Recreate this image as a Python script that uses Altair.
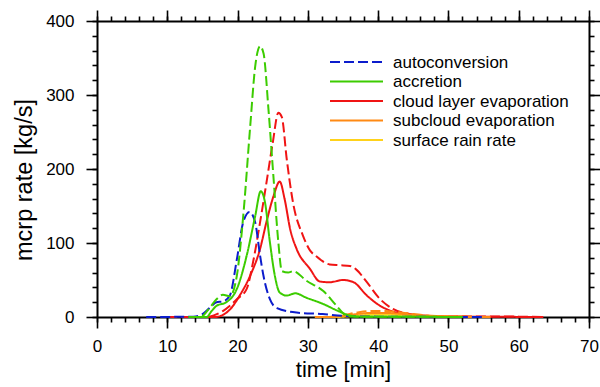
import altair as alt
import pandas as pd

# ---------------- data ----------------
series_keys = ["cloud", "cloud_d", "surface", "subcloud", "subcloud_d", "autoconversion",
               "accretion", "accretion_d"]

t_auto = [7, 13.7, 15, 16.1, 17.0, 17.9, 18.9, 19.9, 20.8, 21.7, 22.5, 23.2, 23.7, 24.6, 25.6, 28.4, 32.1, 35, 40, 55]
v_auto = [0, 0.5, 4, 13, 20, 21, 29, 78, 128, 142, 128, 83, 55, 24, 12, 6, 4, 1.5, 0.5, 0]

t_acc = [14, 15.6, 16.3, 17.0, 18.4, 19.9, 21.3, 22.5, 23.3, 23.9, 24.6, 25.3, 26.0, 27.0, 28.2, 29.8, 32.2, 34.1, 36, 37.5, 45, 52]
v_acc = [0, 0, 8, 15, 20, 38, 83, 136, 170, 155, 101, 56, 33, 29, 32, 26, 17.5, 9, 2, 0.5, 0.3, 0]

t_acc_d = [13, 14.7, 16, 17.0, 17.9, 18.9, 19.9, 20.8, 21.8, 22.5, 23.2, 23.7, 24.4, 25.1, 25.8, 26.3, 27.2, 27.9, 29.8, 32.2, 34.1, 35.3, 36.5, 45, 52]
v_acc_d = [0, 0, 12, 24, 30, 28, 56, 136, 258, 338, 366, 356, 280, 190, 101, 62, 60, 62, 49, 35, 15, 3, 0.5, 0.3, 0]

t_cl = [12, 16.8, 18.9, 20.3, 21.8, 23.2, 24.1, 25.1, 26.0, 26.7, 27.5, 28.4, 30.3, 31.7, 33.1, 35.0, 36.5, 38.4, 40.3, 42.6, 45.2, 48.8, 55, 63.5]
v_cl = [0, 0, 10, 29, 56, 92, 128, 163, 183, 159, 118, 92, 65, 48, 47, 50, 47, 29, 15, 6, 2, 0.8, 0.4, 0]

t_cl_d = [10, 15.4, 17.9, 19.9, 21.3, 22.2, 23.2, 24.1, 25.0, 25.8, 26.3, 27.0, 27.9, 29.3, 30.3, 31.2, 33.1, 34.5, 36.0, 36.9, 38.4, 40.3, 42.1, 44.5, 47.4, 50.2, 60, 63.5]
v_cl_d = [0, 0, 8, 24, 38, 74, 128, 181, 235, 276, 270, 213, 154, 110, 90, 82, 71, 70, 69, 64, 47, 24, 11, 4, 1.5, 0.8, 0.5, 0]

t_sub = [31, 33, 35, 37, 39, 41, 43, 45, 47, 50, 55]
v_sub = [0, 0, 1.5, 4, 5.5, 5.5, 4.5, 3, 1.5, 0.6, 0]

t_sub_d = [31, 33, 35, 37, 39, 41, 43, 45, 47, 50, 56]
v_sub_d = [0, 0, 2.5, 6, 8, 8, 6.5, 4, 2, 0.8, 0]

t_sfc = [32, 34, 36, 38, 40, 42, 44, 46, 49, 53]
v_sfc = [0, 0, 1, 2.5, 3.2, 3, 2.3, 1.3, 0.5, 0]

legend_labels = ["autoconversion", "accretion", "cloud layer evaporation",
                 "subcloud evaporation", "surface rain rate"]

x_major = [0, 10, 20, 30, 40, 50, 60, 70]
x_minor = list(range(0, 71, 2))
y_major = [0, 100, 200, 300, 400]
y_minor = list(range(0, 401, 20))

# ---------------- styling ----------------
BLUE, GREEN, RED, ORANGE, YELLOW = "#0c1ccc", "#3ccc00", "#f01414", "#ff8a14", "#ffd21a"
DASH = [10, 4]
SOLID = [1, 0]
style = {
    "surface": (YELLOW, SOLID), "subcloud": (ORANGE, SOLID), "subcloud_d": (ORANGE, DASH),
    "autoconversion": (BLUE, DASH), "accretion": (GREEN, SOLID), "accretion_d": (GREEN, DASH),
    "cloud": (RED, SOLID), "cloud_d": (RED, DASH),
}
colors = [style[k][0] for k in series_keys]
dashes = [style[k][1] for k in series_keys]
legend_colors = [BLUE, GREEN, RED, ORANGE, YELLOW]
legend_dashes = [DASH, SOLID, SOLID, SOLID, SOLID]

FONT = "Liberation Sans"

data_map = {
    "autoconversion": (t_auto, v_auto), "accretion": (t_acc, v_acc), "accretion_d": (t_acc_d, v_acc_d),
    "cloud": (t_cl, v_cl), "cloud_d": (t_cl_d, v_cl_d), "subcloud": (t_sub, v_sub),
    "subcloud_d": (t_sub_d, v_sub_d), "surface": (t_sfc, v_sfc),
}
rows = []
for key in series_keys:
    ts, vs = data_map[key]
    for i, (t, v) in enumerate(zip(ts, vs)):
        rows.append({"t": t, "v": v, "key": key, "i": i})
df = pd.DataFrame(rows)

xs = alt.Scale(domain=[0, 70], nice=False, zero=False)
ys = alt.Scale(domain=[0, 400], nice=False, zero=False)

common = dict(grid=False, domainColor="black", tickColor="black", labelColor="black",
              titleColor="black", labelFont=FONT, titleFont=FONT)

lines = alt.Chart(df).mark_line(strokeWidth=2, interpolate="monotone").encode(
    x=alt.X("t:Q", scale=xs, axis=alt.Axis(orient="bottom", values=x_major, tickSize=11, tickWidth=1.6,
                                           domainWidth=2, labelFontSize=17, labelPadding=10,
                                           title="time [min]", titleFontSize=22, titleFontWeight="normal",
                                           titlePadding=5, labelFlush=False, **common)),
    y=alt.Y("v:Q", scale=ys, axis=alt.Axis(orient="left", values=y_major, tickSize=11, tickWidth=1.6,
                                           domainWidth=2, labelFontSize=17, labelPadding=12,
                                           title="mcrp rate [kg/s]", titleFontSize=23.5, titleFontWeight="normal",
                                           titlePadding=9, titleY=158.5, labelFlush=False, **common)),
    color=alt.Color("key:N", scale=alt.Scale(domain=series_keys, range=colors), legend=None),
    strokeDash=alt.StrokeDash("key:N", scale=alt.Scale(domain=series_keys, range=dashes), legend=None),
    detail="key:N",
    order="i:Q",
)


def axis_layer(xorient, yorient, xvals, yvals, size, domain):
    return alt.Chart(df).mark_point(opacity=0).encode(
        x=alt.X("t:Q", scale=xs, axis=alt.Axis(orient=xorient, values=xvals, tickSize=size, tickWidth=1.6,
                                               domain=domain, domainWidth=2, labels=False, title=None, **common)),
        y=alt.Y("v:Q", scale=ys, axis=alt.Axis(orient=yorient, values=yvals, tickSize=size, tickWidth=1.6,
                                               domain=domain, domainWidth=2, labels=False, title=None, **common)),
    )


minor_bl = axis_layer("bottom", "left", x_minor, y_minor, 5, False)
major_tr = axis_layer("top", "right", x_major, y_major, 11, True)
minor_tr = axis_layer("top", "right", x_minor, y_minor, 5, False)

# legend (inside plot, upper right)
legend_layers = []
row_y = [41, 60.5, 80, 99.5, 119]
for lab, col, dsh, yy in zip(legend_labels, legend_colors, legend_dashes, row_y):
    ldf = pd.DataFrame({"label": [lab]})
    legend_layers.append(
        alt.Chart(ldf).mark_rule(strokeWidth=2, strokeDash=dsh, color=col).encode(
            x=alt.value(233), x2=alt.value(286), y=alt.value(yy))
    )
    legend_layers.append(
        alt.Chart(ldf).mark_text(align="left", baseline="middle", font=FONT, fontSize=17, color="black").encode(
            x=alt.value(296), y=alt.value(yy + 0.5), text="label:N")
    )

chart = alt.layer(lines, minor_bl, major_tr, minor_tr, *legend_layers).resolve_axis(
    x="independent", y="independent"
).properties(
    width=492, height=296,
    autosize=alt.AutoSizeParams(type="none"),
    padding={"left": 97, "top": 21, "right": 11, "bottom": 70},
).configure_view(stroke=None).configure(background="white")

chart.save("out.html", embed_options={"renderer": "svg", "actions": False})
